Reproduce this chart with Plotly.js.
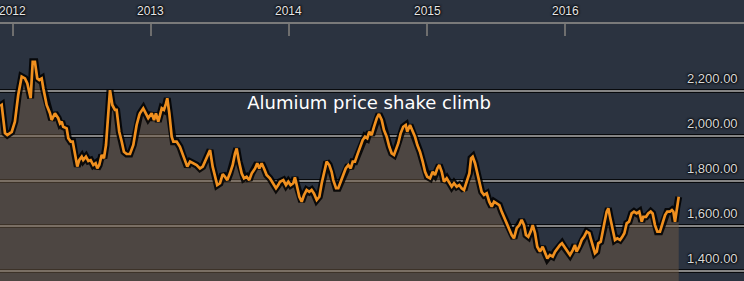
<!DOCTYPE html>
<html>
<head>
<meta charset="utf-8">
<script src="https://cdn.plot.ly/plotly-3.0.1.min.js"></script>
<style>html,body{margin:0;padding:0;background:#2b3340;}#chart{width:744px;height:281px;}</style>
</head>
<body>
<div id="chart"></div>
<script>
// Time in decimal years and aluminium price (USD/t)
const years = [
2011.906,2011.918,2011.942,2011.959,2011.991,2012.014,2012.038,2012.063,2012.087,2012.104,
2012.128,2012.143,2012.159,2012.176,2012.191,2012.208,2012.220,2012.244,2012.268,2012.280,
2012.304,2012.328,2012.341,2012.353,2012.364,2012.389,2012.401,2012.418,2012.433,2012.449,
2012.466,2012.480,2012.498,2012.509,2012.529,2012.546,2012.563,2012.582,2012.599,2012.611,
2012.625,2012.643,2012.659,2012.674,2012.691,2012.703,2012.720,2012.739,2012.751,2012.770,
2012.788,2012.804,2012.824,2012.848,2012.872,2012.896,2012.915,2012.920,2012.944,2012.964,
2012.980,2013.005,2013.022,2013.036,2013.053,2013.078,2013.094,2013.109,2013.118,2013.133,
2013.150,2013.162,2013.186,2013.210,2013.230,2013.246,2013.263,2013.283,2013.307,2013.331,
2013.355,2013.375,2013.391,2013.415,2013.428,2013.447,2013.464,2013.480,2013.500,2013.520,
2013.536,2013.553,2013.572,2013.592,2013.609,2013.621,2013.638,2013.657,2013.674,2013.693,
2013.712,2013.730,2013.754,2013.770,2013.785,2013.802,2013.819,2013.838,2013.862,2013.886,
2013.906,2013.922,2013.935,2013.959,2013.978,2013.995,2014.012,2014.031,2014.043,2014.056,
2014.075,2014.092,2014.109,2014.128,2014.147,2014.164,2014.181,2014.201,2014.220,2014.237,
2014.254,2014.273,2014.292,2014.309,2014.321,2014.341,2014.357,2014.375,2014.393,2014.411,
2014.430,2014.447,2014.462,2014.478,2014.495,2014.514,2014.534,2014.551,2014.567,2014.582,
2014.599,2014.616,2014.636,2014.652,2014.672,2014.688,2014.708,2014.727,2014.744,2014.761,
2014.775,2014.792,2014.809,2014.828,2014.846,2014.857,2014.877,2014.896,2014.913,2014.930,
2014.949,2014.969,2014.986,2015.002,2015.022,2015.041,2015.058,2015.075,2015.089,2015.107,
2015.123,2015.143,2015.162,2015.179,2015.196,2015.215,2015.234,2015.251,2015.268,2015.288,
2015.307,2015.319,2015.331,2015.348,2015.365,2015.379,2015.396,2015.413,2015.433,2015.451,
2015.469,2015.486,2015.505,2015.524,2015.541,2015.558,2015.578,2015.596,2015.614,2015.630,
2015.650,2015.669,2015.686,2015.703,2015.717,2015.734,2015.751,2015.766,2015.783,2015.799,
2015.819,2015.838,2015.855,2015.872,2015.891,2015.911,2015.928,2015.944,2015.964,2015.978,
2016.000,2016.017,2016.036,2016.056,2016.072,2016.084,2016.103,2016.121,2016.138,2016.157,
2016.176,2016.186,2016.201,2016.217,2016.230,2016.241,2016.259,2016.273,2016.285,2016.302,
2016.314,2016.326,2016.339,2016.350,2016.362,2016.379,2016.399,2016.415,2016.430,2016.447,
2016.464,2016.483,2016.500,2016.519,2016.538,2016.556,2016.567,2016.587,2016.603,2016.621,
2016.635,2016.652,2016.669,2016.688,2016.708,2016.725,2016.741,2016.761,2016.775,2016.785,
2016.797,2016.809,2016.824
];
const prices = [
2133,2138,2013,2004,2018,2064,2182,2264,2256,2234,
2168,2330,2330,2256,2249,2256,2212,2138,2101,2071,
2101,2079,2056,2064,2041,2034,1990,1975,1975,1916,
1864,1893,1908,1893,1908,1889,1893,1871,1879,1856,
1871,1916,1901,1960,2108,2204,2138,2116,2116,2019,
1975,1930,1920,1920,1960,2049,2093,2101,2123,2101,
2079,2101,2071,2101,2064,2123,2116,2145,2168,2101,
1997,1975,1975,1952,1916,1893,1864,1886,1879,1871,
1856,1864,1886,1923,1938,1864,1819,1782,1790,1831,
1819,1804,1834,1871,1923,1945,1886,1834,1812,1819,
1804,1834,1856,1879,1856,1879,1856,1827,1812,1790,
1768,1782,1797,1804,1782,1797,1782,1790,1816,1782,
1730,1708,1738,1760,1752,1760,1745,1716,1730,1790,
1841,1886,1871,1841,1804,1768,1768,1797,1827,1856,
1871,1856,1886,1886,1916,1952,1982,1997,1990,2019,
2004,2041,2079,2098,2071,2027,1997,1952,1923,1916,
1938,1968,2012,2041,2049,2019,2049,2019,1997,1960,
1930,1886,1841,1819,1812,1841,1827,1856,1871,1841,
1797,1812,1790,1775,1790,1775,1782,1768,1760,1804,
1834,1901,1908,1879,1834,1790,1752,1738,1745,1708,
1686,1708,1701,1693,1664,1641,1612,1582,1560,1545,
1590,1604,1627,1604,1560,1552,1575,1604,1568,1508,
1486,1508,1479,1456,1471,1464,1486,1501,1516,1523,
1501,1486,1471,1493,1516,1486,1508,1538,1552,1575,
1568,1545,1516,1479,1486,1523,1530,1568,1612,1664,
1679,1641,1597,1560,1538,1545,1538,1552,1568,1612,
1619,1656,1664,1656,1664,1619,1641,1641,1656,1664,
1656,1604,1575,1575,1619,1649,1664,1664,1671,1664,
1619,1679,1730
];
const yearTicks = [2012, 2013, 2014, 2015, 2016];
const yearLabels = ['2012', '2013', '2014', '2015', '2016'];
const gridValues = [1400, 1600, 1800, 2000, 2200];
const gridLabels = ['1,400.00', '1,600.00', '1,800.00', '2,000.00', '2,200.00'];
const chartTitle = 'Alumium price shake climb';

const shadow = '0 0 2px #000, 0 0 2px #000, 0 0 3px #000';

const shapes = [];
gridValues.forEach(v => {
  shapes.push({type: 'line', xref: 'paper', x0: 0, x1: 1, yref: 'y', y0: v, y1: v,
    line: {color: 'rgba(0,0,0,0.8)', width: 4}, layer: 'below'});
  shapes.push({type: 'line', xref: 'paper', x0: 0, x1: 1, yref: 'y', y0: v, y1: v,
    line: {color: '#858585', width: 2}, layer: 'below'});
});

const annotations = gridValues.map((v, i) => ({
  xref: 'paper', x: 0.995, xanchor: 'right', yref: 'y', y: v, yanchor: 'middle', yshift: 13,
  text: gridLabels[i], showarrow: false,
  font: {family: 'Liberation Sans, Arial, sans-serif', size: 13, color: '#d8d8d8', shadow: shadow}
}));
yearTicks.forEach((t, i) => annotations.push({
  xref: 'x', x: t, xanchor: 'center', yref: 'paper', y: 1 - 11/281, yanchor: 'middle',
  text: yearLabels[i], showarrow: false,
  font: {family: 'Liberation Sans, Arial, sans-serif', size: 12, color: '#e6e6e6', shadow: shadow}
}));

const traces = [
  {x: years, y: prices, type: 'scatter', mode: 'lines', fill: 'tozeroy',
   fillcolor: 'rgba(112,90,68,0.5)', line: {color: 'rgba(0,0,0,0.85)', width: 7},
   hoverinfo: 'skip'},
  {x: years, y: prices, type: 'scatter', mode: 'lines',
   line: {color: '#f0901f', width: 2.7}, hoverinfo: 'x+y'}
];

const layout = {
  width: 744, height: 281,
  margin: {l: 0, r: 0, t: 0, b: 0, pad: 0},
  paper_bgcolor: '#2b3340', plot_bgcolor: '#2b3340',
  showlegend: false,
  title: {text: chartTitle, x: 0.496, xanchor: 'center', xref: 'paper',
          y: 1 - 103/281, yanchor: 'middle', yref: 'container',
          font: {family: 'DejaVu Sans, sans-serif', size: 18, color: '#ffffff'}},
  xaxis: {range: [2011.906, 2017.297], side: 'top', showgrid: false, zeroline: false,
          showline: true, linecolor: '#7a7a7a', linewidth: 2,
          ticks: 'inside', ticklen: 12, tickwidth: 2, tickcolor: '#6e6e6e',
          tickvals: yearTicks, showticklabels: false,
          fixedrange: true},
  yaxis: {range: [1355.6, 2497.8], domain: [0, 1 - 24/281], showgrid: false, zeroline: false,
          showticklabels: false, ticks: '', showline: false, fixedrange: true},
  shapes: shapes,
  annotations: annotations
};

Plotly.newPlot('chart', traces, layout, {displayModeBar: false, staticPlot: true});
</script>
</body>
</html>
